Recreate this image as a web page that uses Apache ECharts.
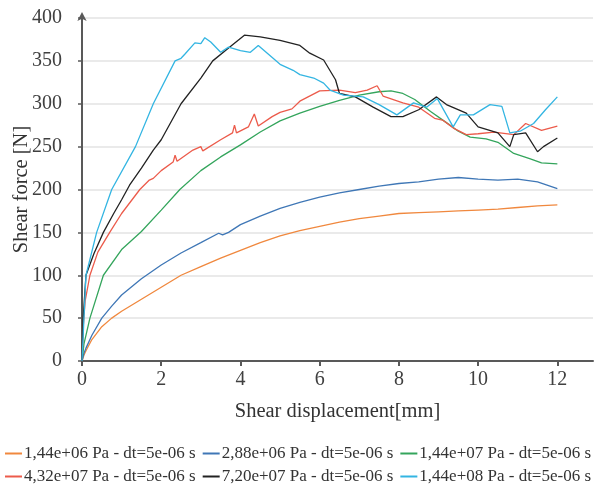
<!DOCTYPE html>
<html>
<head>
<meta charset="utf-8">
<script src="https://cdn.jsdelivr.net/npm/echarts@6/dist/echarts.min.js"></script>
<style>
  html, body { margin: 0; padding: 0; background: #fff; }
  #chart { width: 606px; height: 491px; }
</style>
</head>
<body>
<div id="chart"></div>
<script>
// x = shear displacement [mm], y = shear force [N]
const xTicks = [0, 2, 4, 6, 8, 10, 12];

const names = [
    '1,44e+06 Pa - dt=5e-06 s',
    '2,88e+06 Pa - dt=5e-06 s',
    '1,44e+07 Pa - dt=5e-06 s',
    '4,32e+07 Pa - dt=5e-06 s',
    '7,20e+07 Pa - dt=5e-06 s',
    '1,44e+08 Pa - dt=5e-06 s'
];

const p144e06 = [[0,0],[0.05,7],[0.1,12],[0.25,25],[0.5,40],[0.75,50],[1,58],[1.5,72],[2,86],[2.5,100],[3,110],
    [3.5,120],[4,129],[4.5,138],[5,146],[5.5,152],[6,157],[6.5,162],[7,166],[7.5,169],[8,172],[8.5,173],
    [9,174],[9.5,175],[10,176],[10.5,177],[11,179],[11.5,181],[12,182]];

const p288e06 = [[0,0],[0.05,9],[0.1,15],[0.25,30],[0.5,50],[0.75,64],[1,77],[1.5,96],[2,112],[2.5,126],[3,138],
    [3.45,149],[3.55,147],[3.7,150],[4,159],[4.5,169],[5,178],[5.5,185],[6,191],[6.5,196],[7,200],[7.5,204],
    [8,207],[8.5,209],[9,212],[9.5,214],[10,212],[10.5,211],[11,212],[11.5,209],[12,201]];

const p144e07 = [[0,0],[0.05,20],[0.2,50],[0.54,100],[1,130],[1.5,151],[2,176],[2.47,200],[3,222],[3.5,238],
    [4,252],[4.5,267],[5,280],[5.5,289],[6,297],[6.5,304],[7,310],[7.5,314],[7.8,315],[8.1,312],[8.4,305],
    [8.8,291],[9.2,278],[9.5,268],[9.8,261],[10.2,259],[10.5,255],[10.9,242],[11.3,236],[11.6,231],[12,230]];

const p432e07 = [[0,0],[0.03,40],[0.08,70],[0.2,100],[0.4,127],[0.7,150],[1,172],[1.46,200],[1.7,211],[1.8,213],
    [2,222],[2.3,232],[2.35,240],[2.4,233],[2.8,246],[3,250],[3.05,245],[3.5,258],[3.8,266],[3.85,275],[3.9,266],
    [4.2,273],[4.35,288],[4.45,274],[4.8,285],[5,290],[5.3,294],[5.5,303],[6,315],[6.5,316],[6.9,313],[7.2,316],
    [7.45,321],[7.6,309],[8.1,301],[8.5,296],[8.9,283],[9.1,281],[9.4,271],[9.7,264],[10,265],[10.4,267],
    [10.9,264],[11.2,277],[11.6,269],[12,274]];

const p720e07 = [[0,0],[0.03,50],[0.1,100],[0.3,125],[0.54,150],[0.8,172],[1,188],[1.2,205],[1.5,225],[1.8,246],
    [2,258],[2.5,300],[3,330],[3.3,350],[3.7,365],[4.1,380],[4.5,378],[5,374],[5.5,368],[5.75,359],[6.1,351],
    [6.4,328],[6.5,312],[6.9,308],[7.35,296],[7.8,285],[8.1,285],[8.5,293],[8.95,308],[9.2,299],[9.7,289],
    [10,273],[10.5,266],[10.8,250],[10.9,264],[11.2,266],[11.5,244],[11.65,250],[12,260]];

const p144e08 = [[0,0],[0.1,100],[0.37,150],[0.75,200],[1.35,250],[1.8,300],[2.35,350],[2.5,353],[2.6,358],
    [2.85,371],[3,370],[3.1,377],[3.25,372],[3.5,360],[3.7,366],[4,362],[4.25,360],[4.45,368],[4.7,358],[5,346],
    [5.33,339],[5.5,334],[5.85,330],[6.1,324],[6.26,316],[6.6,310],[7.1,308],[7.5,299],[7.95,287],[8.37,301],
    [8.7,296],[8.97,306],[9.37,273],[9.55,287],[9.88,287],[10.3,299],[10.6,297],[10.8,266],[11.06,268],
    [11.4,277],[11.7,293],[12,308]];

const seriesData = [p144e06, p288e06, p144e07, p432e07, p720e07, p144e08];
const colors = ['#F0883E', '#3F77B6', '#34A55C', '#EC5B4B', '#222222', '#33B5E2'];

const font = 'Liberation Serif';
const chart = echarts.init(document.getElementById('chart'), null, { renderer: 'canvas' });

const legendBase = {
    left: 0,
    itemWidth: 17,
    itemHeight: 2,
    itemGap: 7,
    icon: 'rect',
    textStyle: { fontFamily: font, fontSize: 17, color: '#333', padding: [0, 0, 0, -3] }
};

chart.setOption({
    animation: false,
    color: colors,
    legend: [
        Object.assign({ top: 440, data: names.slice(0, 3) }, legendBase),
        Object.assign({ top: 463, data: names.slice(3) }, legendBase)
    ],
    grid: { left: 82, right: 13, top: 18, bottom: 130, outerBoundsMode: 'none' },
    xAxis: {
        type: 'value',
        min: 0,
        max: 12.9,
        name: 'Shear displacement[mm]',
        nameLocation: 'middle',
        nameGap: 40,
        nameMoveOverlap: false,
        nameTextStyle: { fontFamily: font, fontSize: 20.5, color: '#333' },
        axisLine: { lineStyle: { color: '#595959', width: 2 } },
        axisTick: { length: 5, lineStyle: { color: '#595959', width: 2 }, customValues: xTicks },
        axisLabel: { fontFamily: font, fontSize: 20, color: '#404040', margin: 9, customValues: xTicks },
        splitLine: { show: false }
    },
    yAxis: {
        type: 'value',
        min: 0,
        max: 400,
        interval: 50,
        name: 'Shear force [N]',
        nameLocation: 'middle',
        nameGap: 50,
        nameMoveOverlap: false,
        nameTextStyle: { fontFamily: font, fontSize: 20.5, color: '#333' },
        axisLine: {
            show: true,
            symbol: ['none', 'arrow'],
            symbolSize: [7, 9],
            symbolOffset: [0, 6],
            lineStyle: { color: '#595959', width: 2 }
        },
        axisTick: { show: true, length: 4, lineStyle: { color: '#595959', width: 1.5 } },
        axisLabel: { fontFamily: font, fontSize: 20, color: '#404040', margin: 20 },
        splitLine: { lineStyle: { color: '#e3e3e3', width: 1.5 } }
    },
    series: seriesData.map((d, i) => ({
        name: names[i],
        type: 'line',
        data: d,
        showSymbol: false,
        lineStyle: { width: 1.3 }
    }))
});
</script>
</body>
</html>
